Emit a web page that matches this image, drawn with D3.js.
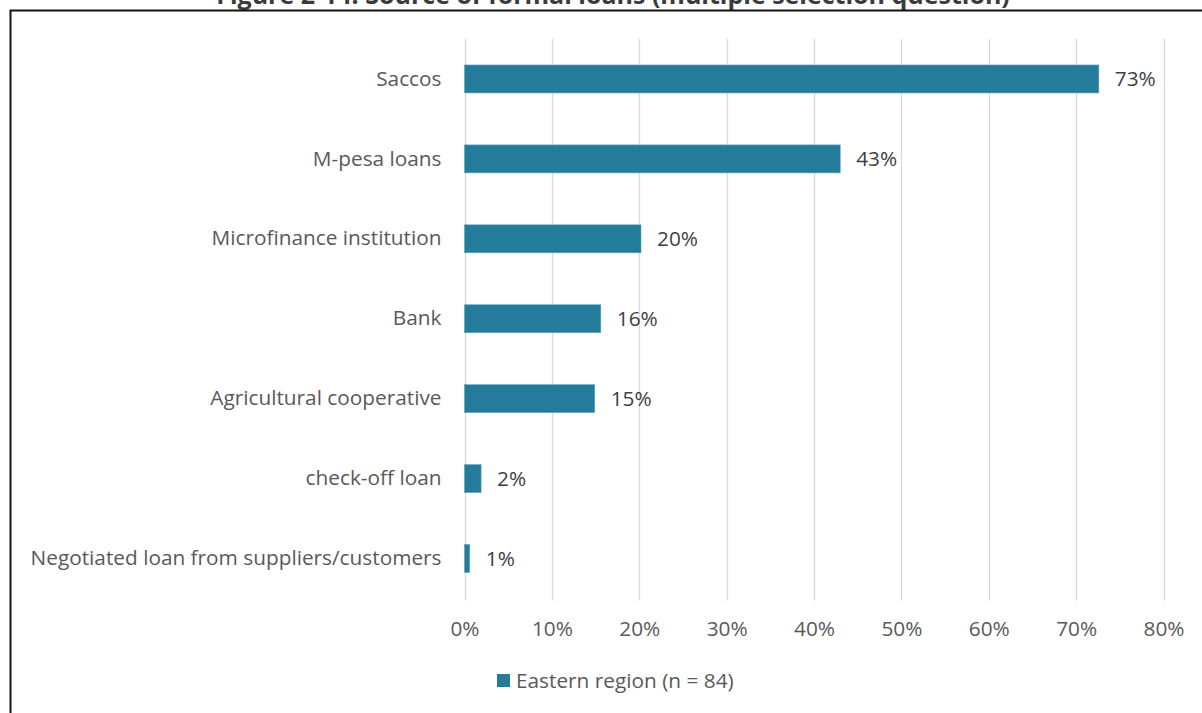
<!DOCTYPE html>
<html>
<head>
<meta charset="utf-8">
<script src="https://cdn.jsdelivr.net/npm/d3@7/dist/d3.min.js"></script>
<style>
  html, body { margin: 0; padding: 0; background: #fff; }
  svg { display: block; }
  text { font-family: "Open Sans", sans-serif; }
</style>
</head>
<body>
<svg id="chart" width="1202" height="713"></svg>
<script>
// Source of formal loans, Eastern region (share of respondents)
const categories = [
  "Saccos",
  "M-pesa loans",
  "Microfinance institution",
  "Bank",
  "Agricultural cooperative",
  "check-off loan",
  "Negotiated loan from suppliers/customers"
];
const values = [0.726, 0.43, 0.202, 0.156, 0.149, 0.019, 0.006];
const xTicks = [0, 0.1, 0.2, 0.3, 0.4, 0.5, 0.6, 0.7, 0.8];
const seriesName = "Eastern region (n = 84)";
const titleText = "Figure 2-14: Source of formal loans (multiple selection question)";

const svg = d3.select("#chart");
const W = 1202, H = 713;
const barColor = "#247C9A";
const fontFamily = "'Open Sans', sans-serif";
const fs = 20.8;

// Plot area
const plotLeft = 464.5, plotRight = 1163.5, plotTop = 39, plotBottom = 598.5;

const x = d3.scaleLinear().domain([0, 0.8]).range([plotLeft, plotRight]);
const y = d3.scaleBand().domain(categories).range([plotTop, plotBottom])
  .paddingInner(0.65).paddingOuter(0.325);

// Title (runs off the top edge)
svg.append("text")
  .attr("x", 613).attr("y", 4)
  .attr("text-anchor", "middle")
  .attr("font-size", 25).attr("font-weight", 700)
  .attr("fill", "#3b3b3b")
  .text(titleText);

// Frame
svg.append("path")
  .attr("d", `M10.5,${H} L10.5,10.5 L${W},10.5`)
  .attr("fill", "none").attr("stroke", "#111").attr("stroke-width", 2);

// Vertical gridlines
svg.append("g").selectAll("line").data(xTicks).join("line")
  .attr("x1", d => Math.round(x(d)) + 0.5).attr("x2", d => Math.round(x(d)) + 0.5)
  .attr("y1", plotTop).attr("y2", plotBottom + 2)
  .attr("stroke", "#d9d9d9").attr("stroke-width", 1.3);

// X axis labels
const xAxis = d3.axisBottom(x).tickValues(xTicks).tickFormat(d3.format(".0%"))
  .tickSize(0).tickPadding(0);
const gx = svg.append("g").attr("transform", `translate(0,${plotBottom + 30})`).call(xAxis);
gx.select(".domain").remove();
gx.selectAll("text")
  .attr("font-family", fontFamily)
  .attr("font-size", fs).attr("fill", "#595959").attr("dy", "0.35em");

// Y axis labels
const yAxis = d3.axisLeft(y).tickSize(0).tickPadding(0);
const gy = svg.append("g").attr("transform", `translate(${plotLeft - 23},0)`).call(yAxis);
gy.select(".domain").remove();
gy.selectAll("text")
  .attr("font-family", fontFamily)
  .attr("font-size", fs).attr("fill", "#595959");

// Bars
const data = categories.map((c, i) => ({ c, v: values[i] }));
svg.append("g").selectAll("rect").data(data).join("rect")
  .attr("x", x(0))
  .attr("y", d => y(d.c))
  .attr("width", d => x(d.v) - x(0))
  .attr("height", y.bandwidth())
  .attr("fill", barColor)
  .attr("stroke", "#5aa5c0").attr("stroke-width", 0.6);

// Value labels
svg.append("g").selectAll("text").data(data).join("text")
  .attr("x", d => x(d.v) + 16)
  .attr("y", d => y(d.c) + y.bandwidth() / 2)
  .attr("dy", "0.35em")
  .attr("font-size", fs).attr("fill", "#404040")
  .text(d => d3.format(".0%")(d.v));

// Legend
const lg = svg.append("g").attr("transform", "translate(497,674)");
lg.append("rect").attr("width", 13).attr("height", 13).attr("fill", barColor);
lg.append("text").attr("x", 19).attr("y", 7).attr("dy", "0.35em")
  .attr("font-size", fs).attr("fill", "#595959").text(seriesName);
</script>
</body>
</html>
